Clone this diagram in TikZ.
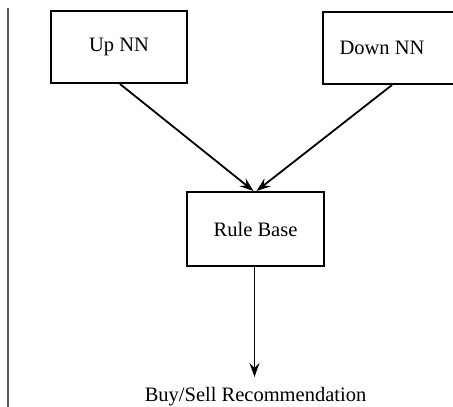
\documentclass[tikz,border=0pt]{standalone}
\usepackage{fontspec}
\setmainfont{Liberation Serif}
\usetikzlibrary{arrows.meta}
\begin{document}
\begin{tikzpicture}[x=1pt,y=-1pt,
  box/.style={draw=black, line width=2pt, minimum width=136pt, minimum height=72pt, inner sep=0pt, font=\fontsize{20.5}{23}\selectfont},
  lbl/.style={font=\fontsize{20.5}{23}\selectfont, inner sep=0pt},
  conn/.style={line width=1.8pt, -{Stealth[length=14pt,width=10pt,inset=5pt]}}]
\clip (0,0) rectangle (453,407);
\useasboundingbox (0,0) rectangle (453,407);
\draw[line width=1.4pt, color=black!65] (8,8) coordinate (ltop) -- (8,407) coordinate (lbot);
\node[box] (up) at (119,47) {Up NN};
\node[box] (down) at (391,48) {};
\node[lbl] (downlabel) at (382,48) {Down NN};
\node[box, minimum width=137pt, minimum height=74pt] (rule) at (255.5,229) {Rule Base};
\coordinate (end) at (254.5,377);
\node[lbl, anchor=base] (buy) at (255.5,401) {Buy/Sell Recommendation};
\draw[conn] ([xshift=1pt]up.south) -- ([xshift=-2pt]rule.north);
\draw[conn] ([xshift=1pt]down.south) -- ([xshift=1pt]rule.north);
\draw[conn] ([xshift=-1pt]rule.south) -- (end);
\end{tikzpicture}
\end{document}
